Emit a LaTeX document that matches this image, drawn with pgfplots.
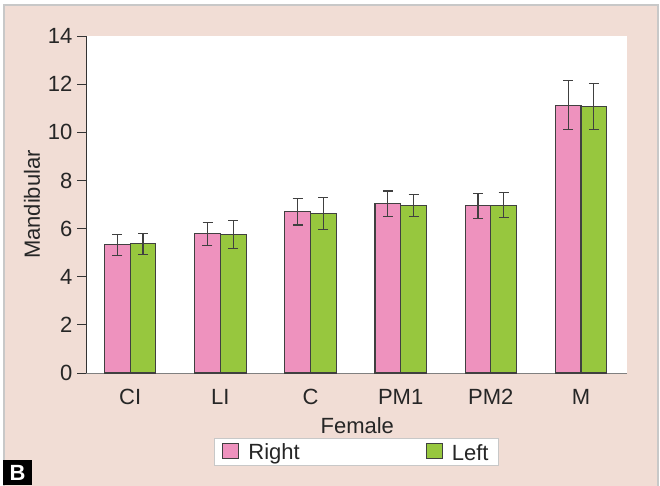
\documentclass[border=0pt]{standalone}
\usepackage{pgfplots}
\pgfplotsset{compat=1.18}
\usepackage{fontspec}
\setmainfont{Liberation Sans}
\definecolor{bg}{HTML}{F1DDD5}
\definecolor{pinkbar}{HTML}{EE92BE}
\definecolor{greenbar}{HTML}{97C73E}
\definecolor{edge}{HTML}{404040}
\definecolor{frame}{HTML}{C8C8C8}
\pgfplotstableread{
x y e
0 5.32 0.42
1 5.79 0.48
2 6.70 0.55
3 7.03 0.53
4 6.94 0.53
5 11.13 1.02
}\rightdata
\pgfplotstableread{
x y e
0 5.37 0.43
1 5.76 0.57
2 6.63 0.65
3 6.97 0.45
4 6.97 0.51
5 11.07 0.95
}\leftdata
\begin{document}
\begin{tikzpicture}[x=1pt,y=1pt]
\useasboundingbox (0,0) rectangle (660,485);
\fill[white] (0,0) rectangle (660,485);
\fill[bg] (4,-5) rectangle (658,480);
\draw[frame, line width=1.5pt] (4,-5) -- (4,480) -- (658,480) -- (658,-5);
\begin{axis}[
  at={(86pt,112pt)}, anchor=south west,
  scale only axis, width=541pt, height=337pt,
  xmin=-0.49, xmax=5.51, ymin=0, ymax=14,
  axis background/.style={fill=white},
  axis x line*=bottom, axis y line*=left,
  x axis line style={draw=gray, line width=1pt, -},
  y axis line style={draw=black!80, line width=1pt, -},
  xtick={0,...,5}, xticklabels={CI,LI,C,PM1,PM2,M},
  x tick style={draw=none},
  ytick={0,2,...,14},
  y tick style={draw=black!80, line width=0.9pt},
  tick align=outside, major tick length=9pt,
  /pgf/number format/assume math mode=true,
  tick label style={font=\fontsize{22}{24}\selectfont, text=black!85},
  yticklabel style={xshift=-1pt},
  xticklabel style={yshift=-4pt},
  label style={font=\fontsize{22}{24}\selectfont, text=black!85},
  xlabel={Female}, ylabel={Mandibular},
  xlabel style={at={(axis description cs:0.5015,-0.157)}, anchor=center},
  ylabel style={at={(axis description cs:-0.0998,0.5)}, anchor=center},
  ybar=0pt, bar width=25.7pt,
  legend columns=2,
  legend style={at={(axis description cs:0.5,-0.1929)}, anchor=north,
    draw=frame, line width=1pt, fill=white, font=\fontsize{22}{24}\selectfont,
    text=black!85,
    inner xsep=8pt, inner ysep=3pt,
    /tikz/every odd column/.append style={column sep=7pt},
    /tikz/every even column/.append style={column sep=124pt}},
  legend image code/.code={\draw[#1, line width=1pt] (0pt,-6pt) rectangle (16pt,9pt);},
  clip=false,
]
\addplot[fill=pinkbar, draw=edge, line width=1.1pt,
  error bars/.cd, y dir=both, y explicit,
  error bar style={draw=edge, line width=1.1pt},
  error mark options={rotate=90, mark size=5pt, line width=1.1pt, draw=edge}]
  table[x=x, y=y, y error=e]{\rightdata};
\addplot[fill=greenbar, draw=edge, line width=1.1pt,
  error bars/.cd, y dir=both, y explicit,
  error bar style={draw=edge, line width=1.1pt},
  error mark options={rotate=90, mark size=5pt, line width=1.1pt, draw=edge}]
  table[x=x, y=y, y error=e]{\leftdata};
\legend{Right, \raisebox{-3pt}{Left}}
\end{axis}
\fill[black] (3,0) rectangle (32,25);
\node[white, font=\fontsize{22}{22}\selectfont\bfseries] at (17.5,12) {B};
\end{tikzpicture}
\end{document}
